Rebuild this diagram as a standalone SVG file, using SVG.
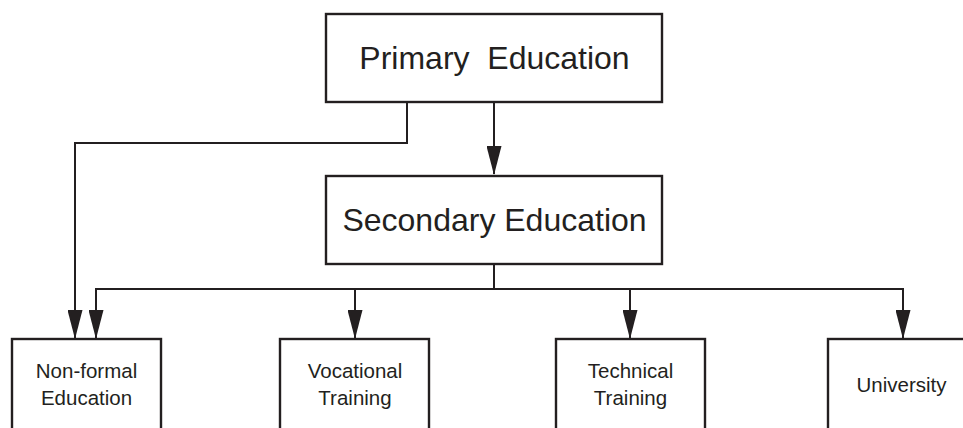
<svg xmlns="http://www.w3.org/2000/svg" width="963" height="428" viewBox="0 0 963 428">
<style>
.box{fill:#fff;stroke:#231f20;stroke-width:2.4}
.ln{fill:none;stroke:#231f20;stroke-width:2}
.arr{marker-end:url(#ah)}
.big{font-family:"Liberation Sans",Arial,sans-serif;font-size:32px;fill:#231f20;text-anchor:middle}
.sm{font-family:"Liberation Sans",Arial,sans-serif;font-size:20.5px;fill:#231f20;text-anchor:middle}
</style>
<defs>
<marker id="ah" viewBox="0 0 29 15" refX="28" refY="7.5" markerWidth="29" markerHeight="15" markerUnits="userSpaceOnUse" orient="auto">
<path d="M0,0 L29,7.5 L0,15 Z" fill="#231f20"/>
</marker>
</defs>
<rect width="963" height="428" fill="#fff"/>
<g id="connectors">
<path class="ln arr" d="M494,102 V174"/>
<path class="ln arr" d="M407,102 V143 H75 V338"/>
<path class="ln arr" d="M494,264 V289 H96 V338"/>
<path class="ln arr" d="M355,289 V338"/>
<path class="ln arr" d="M630,289 V338"/>
<path class="ln arr" d="M494,289 H903 V338"/>
</g>
<g id="primary">
<rect class="box" x="326" y="14" width="336" height="88"/>
<text class="big" x="494.5" y="69" xml:space="preserve">Primary  Education</text>
</g>
<g id="secondary">
<rect class="box" x="326" y="176" width="336" height="88"/>
<text class="big" x="494.5" y="231">Secondary Education</text>
</g>
<g id="nonformal">
<rect class="box" x="12" y="339" width="149" height="110"/>
<text class="sm" x="86.5" y="378">Non-formal</text>
<text class="sm" x="86.5" y="405">Education</text>
</g>
<g id="vocational">
<rect class="box" x="280" y="339" width="149" height="110"/>
<text class="sm" x="355" y="378">Vocational</text>
<text class="sm" x="355" y="405">Training</text>
</g>
<g id="technical">
<rect class="box" x="556" y="339" width="149" height="110"/>
<text class="sm" x="630.5" y="378">Technical</text>
<text class="sm" x="630.5" y="405">Training</text>
</g>
<g id="university">
<rect class="box" x="828" y="339" width="149" height="110"/>
<text class="sm" x="901.5" y="392">University</text>
</g>
</svg>
